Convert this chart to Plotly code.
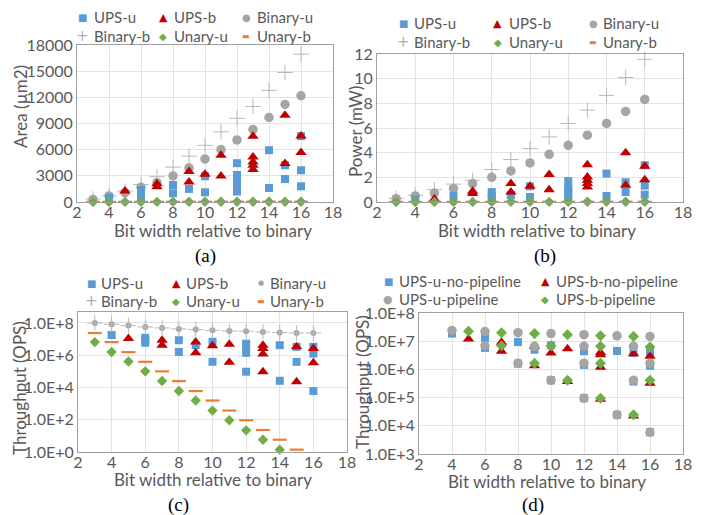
import plotly.graph_objects as go

FONT = "Lato, 'Open Sans', sans-serif"
SERIF = "'Liberation Serif', 'DejaVu Serif', serif"
GLYPH = "'DejaVu Sans', sans-serif"
TXT = "#595959"
GRID = "#e3e3e3"
FRAME = "#a0a0a0"

C_BLUE = "#5B9BD5"
C_RED = "#C00000"
C_GREY = "#A5A5A5"
C_GREEN = "#70AD47"
C_ORANGE = "#ED7D31"

# ---------------- data ----------------
x_ticks = [2, 4, 6, 8, 10, 12, 14, 16, 18]
bits = [3, 4, 5, 6, 7, 8, 9, 10, 11, 12, 13, 14, 15, 16]

# (a) Area (um2)
area_binary_u = [300, 690, 1070, 1690, 2220, 2990, 3900, 4940, 6010, 7120, 8310, 9690, 11180, 12180]
area_binary_b = [350, 700, 1250, 2000, 2900, 4000, 5250, 6500, 8050, 9600, 10950, 12800, 14850, 16950]
area_unary_u = [10, 12, 14, 15, 17, 19, 21, 23, 25, 27, 29, 31, 33, 35]
area_unary_b = [12, 14, 16, 18, 20, 22, 24, 26, 28, 30, 32, 34, 36, 38]
area_ups_u_x = [4, 6, 6, 6, 6, 8, 8, 9, 10, 10, 12, 12, 12, 12, 12, 12, 12, 14, 14, 15, 15, 16, 16, 16]
area_ups_u_y = [500, 460, 800, 1100, 1350, 1000, 1950, 1500, 1110, 2950, 1200, 1600, 2000, 2400, 2800, 3100, 4450,
                1610, 5940, 2640, 4210, 1800, 3640, 7550]
area_ups_b_x = [5, 7, 7, 9, 9, 10, 11, 11, 13, 13, 13, 13, 13, 15, 15, 16, 16]
area_ups_b_y = [1250, 1750, 2100, 2300, 3500, 3180, 2990, 5360, 3720, 4210, 4600, 5170, 7550, 4400, 9960, 5670, 7580]

# (b) Power (mW)
power_binary_u = [0.27, 0.49, 0.73, 1.08, 1.49, 2.0, 2.52, 3.17, 3.87, 4.6, 5.42, 6.37, 7.34, 8.32]
power_binary_b = [0.3, 0.55, 1.0, 1.45, 1.76, 2.63, 3.44, 4.33, 5.28, 6.37, 7.45, 8.64, 10.1, 11.57]
power_unary_u = [0.005, 0.006, 0.007, 0.008, 0.009, 0.01, 0.011, 0.012, 0.013, 0.014, 0.015, 0.016, 0.017, 0.018]
power_unary_b = [0.006, 0.007, 0.008, 0.009, 0.01, 0.011, 0.012, 0.013, 0.014, 0.015, 0.016, 0.017, 0.018, 0.019]
power_ups_u_x = [4, 6, 8, 8, 8, 9, 10, 10, 12, 12, 12, 12, 12, 14, 14, 15, 15, 16, 16, 16]
power_ups_u_y = [0.2, 0.49, 0.3, 0.55, 0.8, 0.55, 0.4, 1.27, 0.3, 0.6, 0.9, 1.15, 1.7, 0.49, 2.3, 0.81, 1.6, 0.6, 1.33, 2.98]
power_ups_b_x = [5, 7, 7, 9, 9, 10, 11, 11, 13, 13, 13, 13, 13, 15, 15, 16, 16]
power_ups_b_y = [0.25, 0.68, 0.87, 0.81, 1.49, 1.27, 1.0, 2.22, 1.22, 1.49, 1.76, 2.03, 3.03, 1.35, 4.0, 1.8, 2.9]

# (c) Throughput (OPS)
tp_binary_u = [1.0e8, 8.3e7, 6.9e7, 5.6e7, 4.9e7, 4.3e7, 3.9e7, 3.5e7, 3.2e7, 3.1e7, 2.8e7, 2.6e7, 2.4e7, 2.4e7]
tp_binary_b = [1.0e8, 8.3e7, 6.9e7, 5.6e7, 4.9e7, 4.3e7, 3.9e7, 3.5e7, 3.2e7, 3.1e7, 2.8e7, 2.6e7, 2.4e7, 2.4e7]
tp_unary_b_x = [3, 4, 5, 6, 7, 8, 9, 10, 11, 12, 13, 14, 15]
tp_unary_b = [2.4e7, 6.5e6, 1.55e6, 3.9e5, 1.0e5, 2.5e4, 6.0e3, 1.55e3, 3.7e2, 9.3e1, 2.3e1, 5.8, 1.4]
tp_unary_u_x = [3, 4, 5, 6, 7, 8, 9, 10, 11, 12, 13, 14]
tp_unary_u = [6.5e6, 1.6e6, 4.1e5, 1.0e5, 2.5e4, 6.0e3, 1.55e3, 3.7e2, 9.3e1, 2.2e1, 5.8, 1.4]
tp_ups_u_x = [4, 6, 6, 6, 8, 8, 9, 10, 10, 12, 12, 12, 12, 14, 14, 15, 15, 16, 16, 16]
tp_ups_u_y = [1.8e7, 1.2e7, 9.3e6, 5.9e6, 8.5e6, 1.6e6, 4.2e6, 6.8e6, 3.9e5, 5.2e6, 4.2e6, 1.4e6, 9.5e4,
              4.2e6, 2.6e4, 3.3e6, 3.9e5, 3.3e6, 1.26e6, 6.0e3]
tp_ups_b_x = [5, 7, 7, 9, 9, 10, 11, 11, 13, 13, 13, 13, 15, 15, 16, 16]
tp_ups_b_y = [1.07e7, 8.5e6, 4.2e6, 6.5e6, 1.4e6, 3.8e6, 4.8e6, 3.7e5, 4.2e6, 2.6e6, 1.2e6, 9.5e4, 3.3e6, 2.3e4, 2.6e6, 3.4e5]

# (d) Throughput (OPS), pipeline vs no pipeline
d_u_nopipe_x = [4, 6, 6, 8, 8, 9, 10, 10, 12, 12, 12, 14, 14, 15, 15, 16, 16, 16]
d_u_nopipe_y = [1.86e7, 1.3e7, 5.8e6, 9.3e6, 1.6e6, 5.0e6, 7.1e6, 4.1e5, 4.4e6, 1.45e6, 9.5e4, 4.5e6, 2.45e4,
                3.8e6, 3.7e5, 3.8e6, 1.35e6, 5.9e3]
d_b_nopipe_x = [5, 7, 7, 9, 9, 10, 11, 11, 13, 13, 13, 13, 15, 15, 16, 16]
d_b_nopipe_y = [1.2e7, 9.1e6, 4.4e6, 6.6e6, 1.35e6, 3.8e6, 5.4e6, 3.7e5, 4.0e6, 3.3e6, 1.2e6, 8.7e4, 3.6e6, 2.24e4, 2.9e6, 3.2e5]
d_u_pipe_x = [4, 6, 6, 8, 8, 9, 10, 10, 12, 12, 12, 12, 14, 14, 15, 15, 16, 16, 16]
d_u_pipe_y = [2.4e7, 2.2e7, 6.9e6, 2.0e7, 1.66e6, 6.6e6, 1.86e7, 4.1e5, 1.7e7, 6.6e6, 1.66e6, 9.5e4, 1.55e7, 2.45e4,
              6.6e6, 4.1e5, 1.48e7, 1.66e6, 5.9e3]
d_b_pipe_x = [5, 7, 7, 9, 9, 10, 11, 11, 13, 13, 13, 13, 15, 15, 16, 16]
d_b_pipe_y = [2.24e7, 2.0e7, 6.9e6, 1.86e7, 1.66e6, 6.9e6, 1.7e7, 4.1e5, 1.55e7, 6.6e6, 1.66e6, 9.5e4, 1.48e7, 2.45e4, 6.2e6, 4.1e5]

area_ticks = [0, 3000, 6000, 9000, 12000, 15000, 18000]
area_labels = ["0", "3000", "6000", "9000", "12000", "15000", "18000"]
power_ticks = [0, 2, 4, 6, 8, 10, 12]
tp_c_ticks = [1e0, 1e2, 1e4, 1e6, 1e8]
tp_c_labels = ["1.0E+0", "1.0E+2", "1.0E+4", "1.0E+6", "1.0E+8"]
tp_d_ticks = [1e3, 1e4, 1e5, 1e6, 1e7, 1e8]
tp_d_labels = ["1.0E+3", "1.0E+4", "1.0E+5", "1.0E+6", "1.0E+7", "1.0E+8"]

legend_rows_abc = [["UPS-u", "UPS-b", "Binary-u"], ["Binary-b", "Unary-u", "Unary-b"]]
legend_rows_d = [["UPS-u-no-pipeline", "UPS-b-no-pipeline"], ["UPS-u-pipeline", "UPS-b-pipeline"]]

# ---------------- styles ----------------
W, H = 703, 515
STY = {
    "UPS-u": dict(symbol="square", size=8, color=C_BLUE),
    "UPS-b": dict(symbol="triangle-up", size=10, color=C_RED),
    "Binary-u": dict(symbol="circle", size=9.5, color=C_GREY),
    "Binary-b": dict(symbol="cross-thin", size=11, color=C_GREY, line=dict(width=1, color="#b8b8b8")),
    "Unary-u": dict(symbol="diamond", size=8, color=C_GREEN),
    "Unary-b": dict(symbol="line-ew", size=10, color=C_ORANGE, line=dict(width=2.2, color=C_ORANGE)),
    "UPS-u-no-pipeline": dict(symbol="square", size=8, color=C_BLUE),
    "UPS-b-no-pipeline": dict(symbol="triangle-up", size=10, color=C_RED),
    "UPS-u-pipeline": dict(symbol="circle", size=9.5, color=C_GREY),
    "UPS-b-pipeline": dict(symbol="diamond", size=8.5, color=C_GREEN),
}
# legend glyphs (char, color, font size)
GLY = {
    "UPS-u": ("■", C_BLUE, 10),
    "UPS-b": ("▲", C_RED, 11),
    "Binary-u": ("●", C_GREY, 10),
    "Binary-b": ("+", "#b0b0b0", 15),
    "Unary-u": ("◆", C_GREEN, 10),
    "Unary-b": ("▬", C_ORANGE, 8),
    "UPS-u-no-pipeline": ("■", C_BLUE, 10),
    "UPS-b-no-pipeline": ("▲", C_RED, 11),
    "UPS-u-pipeline": ("●", C_GREY, 11),
    "UPS-b-pipeline": ("◆", C_GREEN, 10),
}

fig = go.Figure()


def add(name, x, y, ax, marker_override=None):
    m = dict(STY[name])
    if marker_override:
        m.update(marker_override)
    fig.add_trace(go.Scatter(x=x, y=y, mode="markers", name=name, marker=m,
                             xaxis="x" + ax, yaxis="y" + ax, showlegend=False, cliponaxis=False))


# panel a
add("Binary-b", bits, area_binary_b, "")
add("Binary-u", bits, area_binary_u, "")
add("UPS-u", area_ups_u_x, area_ups_u_y, "")
add("UPS-b", area_ups_b_x, area_ups_b_y, "")
add("Unary-b", bits, area_unary_b, "")
add("Unary-u", bits, area_unary_u, "")
# panel b
add("Binary-b", bits, power_binary_b, "2")
add("Binary-u", bits, power_binary_u, "2")
add("UPS-u", power_ups_u_x, power_ups_u_y, "2")
add("UPS-b", power_ups_b_x, power_ups_b_y, "2")
add("Unary-b", bits, power_unary_b, "2")
add("Unary-u", bits, power_unary_u, "2")
# panel c
add("UPS-u", tp_ups_u_x, tp_ups_u_y, "3")
add("UPS-b", tp_ups_b_x, tp_ups_b_y, "3")
add("Binary-u", bits, tp_binary_u, "3", dict(size=6))
add("Binary-b", bits, tp_binary_b, "3")
add("Unary-u", tp_unary_u_x, tp_unary_u, "3")
add("Unary-b", tp_unary_b_x, tp_unary_b, "3")
# panel d
add("UPS-u-no-pipeline", d_u_nopipe_x, d_u_nopipe_y, "4")
add("UPS-b-no-pipeline", d_b_nopipe_x, d_b_nopipe_y, "4")
add("UPS-u-pipeline", d_u_pipe_x, d_u_pipe_y, "4")
add("UPS-b-pipeline", d_b_pipe_x, d_b_pipe_y, "4")


def px_x(p):
    return p / W


def px_y(p):
    return 1 - p / H


def xaxis(d0, d1, anchor, standoff=-4):
    return dict(domain=[px_x(d0), px_x(d1)], range=[2, 18], tickvals=x_ticks, anchor=anchor,
                showgrid=True, gridcolor=GRID, gridwidth=1, showline=True, linecolor=FRAME, linewidth=1,
                mirror=True, zeroline=False, ticks="", automargin=False, ticklabelstandoff=standoff,
                tickfont=dict(family=FONT, size=16, color=TXT))


def yaxis(top, bottom, anchor, **kw):
    d = dict(domain=[px_y(bottom), px_y(top)], anchor=anchor, showgrid=True, gridcolor=GRID, gridwidth=1,
             showline=True, linecolor=FRAME, linewidth=1, mirror=True, zeroline=False, ticks="",
             automargin=False, tickfont=dict(family=FONT, size=16, color=TXT))
    d.update(kw)
    return d


annotations = []


def text(x, y, s, size=17, angle=0, family=FONT, color=TXT, xanchor="center"):
    annotations.append(dict(x=px_x(x), y=px_y(y), xref="paper", yref="paper", text=s, showarrow=False,
                            textangle=angle, font=dict(family=family, size=size, color=color),
                            xanchor=xanchor, yanchor="middle"))


def legend_block(rows, sym_cols, text_cols, row_ys, small_circle=False):
    for row, y in zip(rows, row_ys):
        for name, sx, tx in zip(row, sym_cols, text_cols):
            ch, col, sz = GLY[name]
            if small_circle and name == "Binary-u":
                sz = 7
            text(sx, y, ch, size=sz, family=GLYPH, color=col)
            text(tx, y, name, size=15, xanchor="left")


legend_block(legend_rows_abc, [82, 163, 246], [92, 172, 255], [17, 36])
legend_block(legend_rows_abc, [403, 498, 593], [412, 507, 601], [23, 42])
legend_block(legend_rows_abc, [91, 176, 261], [99, 184, 268], [283, 301], small_circle=True)
legend_block(legend_rows_d, [388, 545], [397, 554], [281, 299])

text(213, 230, "Bit width relative to binary")
text(537, 230, "Bit width relative to binary")
text(213, 479, "Bit width relative to binary")
text(547, 481, "Bit width relative to binary")
text(21, 107, "Area (µm2)", angle=-90)
text(355, 132, "Power (mW)", angle=-90)
text(19, 388, "Throughput (OPS)", angle=-90)
text(362, 382, "Throughput (OPS)", angle=-90)
text(205, 256, "(a)", size=19, family=SERIF, color="#000")
text(545, 256, "(b)", size=19, family=SERIF, color="#000")
text(178, 505, "(c)", size=19, family=SERIF, color="#000")
text(533, 505, "(d)", size=19, family=SERIF, color="#000")

fig.update_layout(
    width=W, height=H, margin=dict(l=0, r=0, t=0, b=0, autoexpand=False),
    paper_bgcolor="white", plot_bgcolor="white", showlegend=False,
    font=dict(family=FONT, color=TXT),
    xaxis=xaxis(77, 333, "y"),
    yaxis=yaxis(45, 202, "x", range=[0, 18000], tickvals=area_ticks, ticktext=area_labels),
    xaxis2=xaxis(377, 683, "y2"),
    yaxis2=yaxis(54, 202, "x2", range=[0, 12], tickvals=power_ticks),
    xaxis3=xaxis(78, 347, "y3"),
    yaxis3=yaxis(312, 452, "x3", type="log", range=[0, 8.68], tickvals=tp_c_ticks, ticktext=tp_c_labels),
    xaxis4=xaxis(419, 683, "y4"),
    yaxis4=yaxis(313, 454, "x4", type="log", range=[3, 8], tickvals=tp_d_ticks, ticktext=tp_d_labels),
    annotations=annotations,
)

fig.write_html("out.html", config={"displayModeBar": False},
               post_script="document.body.style.margin='0px';")
